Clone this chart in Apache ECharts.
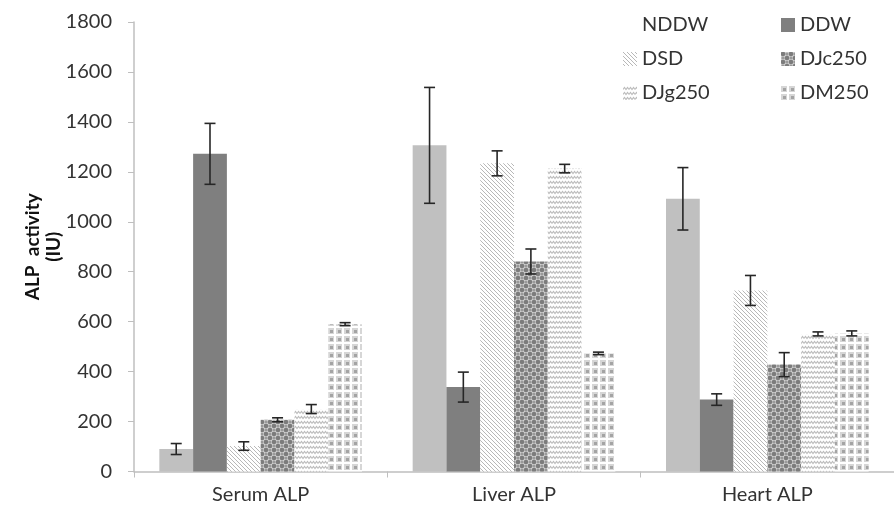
<!DOCTYPE html>
<html><head><meta charset="utf-8">
<script src="https://cdn.jsdelivr.net/npm/echarts@6/dist/echarts.min.js"></script>
<style>html,body{margin:0;padding:0;background:#fff}#c{width:894px;height:514px}</style>
</head><body><div id="c"></div>
<script>
var categories = ['Serum ALP', 'Liver ALP', 'Heart ALP'];
var seriesNames = ['NDDW', 'DDW', 'DSD', 'DJc250', 'DJg250', 'DM250'];
var NDDW = [90, 1306, 1092];
var DDW = [1272, 338, 288];
var DSD = [102, 1234, 725];
var DJc250 = [207, 841, 428];
var DJg250 = [250, 1213, 551];
var DM250 = [590, 473, 553];
var errNDDW = [22, 232, 125];
var errDDW = [122, 60, 23];
var errDSD = [17, 50, 60];
var errDJc250 = [8, 50, 48];
var errDJg250 = [18, 17, 8];
var errDM250 = [6, 5, 10];
var yTicks = [0, 200, 400, 600, 800, 1000, 1200, 1400, 1600, 1800];

var values = [NDDW, DDW, DSD, DJc250, DJg250, DM250];
var errs = [errNDDW, errDDW, errDSD, errDJc250, errDJg250, errDM250];

function mk(w, h, draw) {
  var c = document.createElement('canvas');
  c.width = w; c.height = h;
  var g = c.getContext('2d');
  draw(g, w, h);
  return c;
}
var patDSD = mk(4, 4, function (g, w, h) {
  g.fillStyle = '#ffffff'; g.fillRect(0, 0, w, h);
  g.strokeStyle = '#b8b8b8'; g.lineWidth = 1;
  for (var k = -2; k <= 2; k++) {
    g.beginPath(); g.moveTo(k * 4 - 1, -1); g.lineTo(k * 4 + 5, 5); g.stroke();
  }
});
var patDJc = mk(8, 8, function (g) {
  g.fillStyle = '#d0d0d0'; g.fillRect(0, 0, 8, 8);
  g.fillStyle = '#7c7c7c';
  [[2, 2], [6, 6]].forEach(function (p) { g.beginPath(); g.arc(p[0], p[1], 2.3, 0, Math.PI * 2); g.fill(); });
  g.fillStyle = '#9a9a9a';
  [[6, 2], [2, 6]].forEach(function (p) { g.beginPath(); g.arc(p[0], p[1], 1.6, 0, Math.PI * 2); g.fill(); });
});
var patDJg = mk(6, 5, function (g) {
  g.fillStyle = '#ffffff'; g.fillRect(0, 0, 6, 5);
  g.strokeStyle = '#bcbcbc'; g.lineWidth = 1.1;
  g.beginPath(); g.moveTo(0, 3.5); g.lineTo(1.5, 1.5); g.lineTo(3, 3.5); g.lineTo(4.5, 1.5); g.lineTo(6, 3.5); g.stroke();
});
var patDM = mk(8, 8, function (g) {
  g.fillStyle = '#d6d6d6'; g.fillRect(0, 0, 8, 8);
  g.fillStyle = '#ffffff'; g.fillRect(0, 6, 8, 2); g.fillRect(6, 0, 2, 8);
  g.fillStyle = '#a4a4a4'; g.fillRect(2, 2, 3, 3);
});
var fills = ['#c0c0c0', '#7f7f7f',
  { image: patDSD, repeat: 'repeat' },
  { image: patDJc, repeat: 'repeat' },
  { image: patDJg, repeat: 'repeat' },
  { image: patDM, repeat: 'repeat' }];

var catGap = 0.2;
var series = seriesNames.map(function (n, i) {
  return {
    name: n, type: 'bar', data: values[i], barGap: '0%', barCategoryGap: (catGap * 100) + '%',
    itemStyle: { color: fills[i] }, emphasis: { disabled: true }
  };
});
var errData = [];
for (var s = 0; s < 6; s++) for (var c = 0; c < 3; c++) errData.push([c, s, values[s][c], errs[s][c]]);
series.push({
  type: 'custom', data: errData, z: 10, silent: true,
  renderItem: function (params, api) {
    var ci = api.value(0), si = api.value(1), m = api.value(2), e = api.value(3);
    var band = api.size([1, 0])[0];
    var bw = band * (1 - catGap) / 6;
    var x = api.coord([ci, m])[0] + (si - 2.5) * bw;
    var yt = api.coord([ci, m + e])[1], yb = api.coord([ci, m - e])[1];
    var cap = 5.5;
    var st = { stroke: '#262626', lineWidth: 1.6 };
    return { type: 'group', children: [
      { type: 'line', shape: { x1: x, y1: yt, x2: x, y2: yb }, style: st },
      { type: 'line', shape: { x1: x - cap, y1: yt, x2: x + cap, y2: yt }, style: st },
      { type: 'line', shape: { x1: x - cap, y1: yb, x2: x + cap, y2: yb }, style: st }
    ] };
  }
});

var legendText = { fontFamily: 'Lato', fontSize: 20, color: '#333' };
var chart = echarts.init(document.getElementById('c'));
chart.setOption({
  animation: false,
  color: ['#c0c0c0', '#7f7f7f', '#b4b4b4', '#7c7c7c', '#bdbdbd', '#a4a4a4'],
  grid: { left: 134, top: 22, bottom: 42.5, width: 768 },
  legend: [
    { orient: 'vertical', left: 618, top: 10, itemWidth: 14, itemHeight: 14, itemGap: 14, icon: 'rect',
      textStyle: legendText, data: [{ name: 'NDDW', itemStyle: { opacity: 0 } }, 'DSD', 'DJg250'], selectedMode: false },
    { orient: 'vertical', left: 776, top: 10, itemWidth: 14, itemHeight: 14, itemGap: 14, icon: 'rect',
      textStyle: legendText, data: ['DDW', 'DJc250', 'DM250'], selectedMode: false }
  ],
  xAxis: {
    type: 'category', data: categories,
    axisLine: { lineStyle: { color: '#bfbfbf', width: 1.5 } },
    axisTick: { show: true, length: 6, lineStyle: { color: '#bfbfbf' } },
    axisLabel: { fontFamily: 'Lato', fontSize: 20, color: '#333', margin: 13 }
  },
  yAxis: {
    type: 'value', min: yTicks[0], max: yTicks[yTicks.length - 1], interval: 200,
    name: 'ALP  activity\n(IU)', nameLocation: 'middle', nameGap: 70, nameMoveOverlap: false,
    nameTextStyle: { fontFamily: 'Lato', fontWeight: 'bold', fontSize: 19, color: '#111', lineHeight: 21 },
    axisLine: { show: true, lineStyle: { color: '#bfbfbf', width: 1.5 } },
    axisTick: { show: true, length: 6, lineStyle: { color: '#bfbfbf' } },
    splitLine: { show: false },
    axisLabel: { fontFamily: 'Lato', fontSize: 20, color: '#333', margin: 22,
      formatter: function (v) { return String(v); } }
  },
  series: series
});
</script></body></html>
